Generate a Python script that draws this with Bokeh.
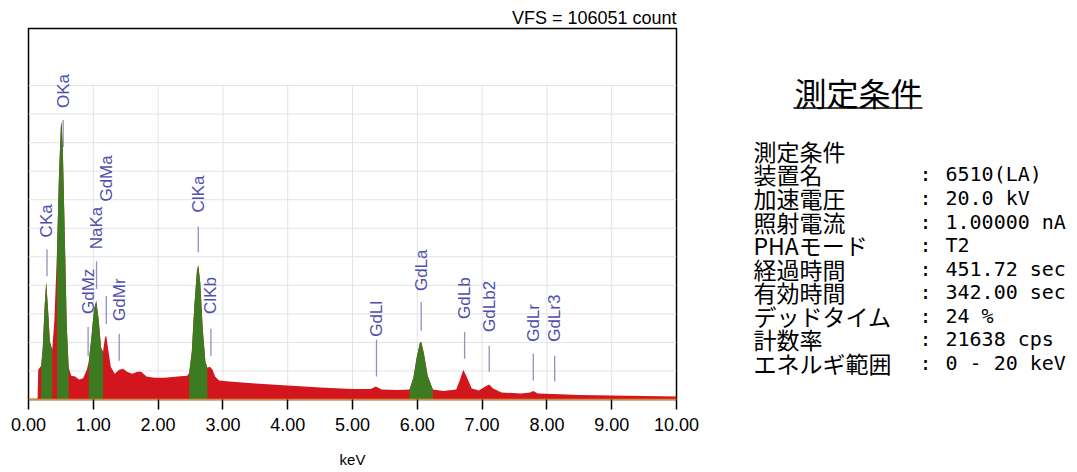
from bokeh.plotting import figure
from bokeh.models import Range1d, NumeralTickFormatter, FixedTicker, ColumnDataSource
from bokeh.layouts import row
from bokeh.embed import file_html
from bokeh.resources import INLINE
from bokeh.core.properties import value

# ---------------- data ----------------
vfs = 106051
energy_keV = [0.00, 0.14, 0.15, 0.196, 0.22, 0.25, 0.273, 0.30, 0.33, 0.366, 0.40, 0.44, 0.47, 0.50, 0.51,
              0.53, 0.56, 0.59, 0.62, 0.66, 0.72, 0.78, 0.84, 0.90, 0.93, 0.97, 1.01, 1.045, 1.08, 1.12,
              1.15, 1.18, 1.20, 1.23, 1.27, 1.33, 1.40, 1.46, 1.52, 1.60, 1.68, 1.74, 1.82, 1.95, 2.10,
              2.30, 2.45, 2.48, 2.52, 2.56, 2.60, 2.62, 2.65, 2.69, 2.73, 2.76, 2.80, 2.84, 2.88, 2.94,
              3.10, 3.50, 4.00, 4.50, 5.00, 5.28, 5.36, 5.45, 5.70, 5.88, 5.94, 5.99, 6.04, 6.06, 6.10,
              6.16, 6.24, 6.40, 6.60, 6.66, 6.71, 6.76, 6.84, 6.95, 7.05, 7.11, 7.17, 7.30, 7.60, 7.74,
              7.79, 7.86, 8.10, 8.50, 9.00, 9.50, 10.00]
counts = [0, 0, 8530, 9670, 14780, 27010, 33550, 26160, 16490, 14220, 22740, 42650, 63970, 78180, 79320,
          71080, 46910, 21320, 9100, 6820, 6540, 5690, 5970, 8530, 10800, 17630, 25590, 28150, 23310, 14780,
          13650, 17630, 18200, 14220, 9380, 7390, 8530, 8810, 7960, 7390, 7960, 7960, 6540, 6250, 6250,
          6540, 6820, 7680, 13650, 27010, 36960, 38380, 33550, 19900, 10800, 9100, 9380, 8530, 6540, 5400,
          5120, 4550, 3980, 3410, 2990, 2990, 3700, 2840, 2700, 2840, 6250, 11940, 16200, 16490, 13360,
          6820, 2840, 2420, 2840, 5690, 8530, 6540, 3130, 2560, 3700, 4260, 3130, 1990, 1710, 1990,
          2420, 1710, 1560, 1280, 1140, 1000, 850]

# identified-peak windows (green)
roi_lo = [0.196, 0.44, 0.93, 2.48, 5.88]
roi_hi = [0.366, 0.62, 1.15, 2.76, 6.24]

# peak identification labels
peak_names = ["CKa", "OKa", "NaKa", "GdMa", "GdMz", "GdMr", "ClKa", "ClKb",
              "GdLl", "GdLa", "GdLb", "GdLb2", "GdLr", "GdLr3"]
peak_keV = [0.285, 0.535, 1.05, 1.20, 0.92, 1.40, 2.62, 2.815,
            5.37, 6.06, 6.73, 7.11, 7.79, 8.12]
marker_top = [42930, 79890, 39520, 29570, 20750, 18760, 49470, 20190,
              17060, 27860, 19330, 15350, 13080, 12510]
marker_bottom = [35250, 72210, 31560, 21610, 12510, 11090, 42080, 12510,
                 6540, 19620, 11660, 7960, 5400, 5120]
label_base = [46340, 83300, 42930, 56580, 24450, 22460, 53450, 24450,
              17910, 30990, 23030, 19330, 16490, 16490]

x_ticks = [0, 1, 2, 3, 4, 5, 6, 7, 8, 9, 10]

cond_title = "測定条件"
cond_labels = ["測定条件", "装置名", "加速電圧", "照射電流", "PHAモード", "経過時間",
               "有効時間", "デッドタイム", "計数率", "エネルギ範囲"]
cond_values = ["", "6510(LA)", "20.0 kV", "1.00000 nA", "T2", "451.72 sec",
               "342.00 sec", "24 %", "21638 cps", " 0 - 20 keV"]

# ---------------- styles ----------------
RED = "#d3161e"
GREEN = "#3c7b22"
LABEL_BLUE = "#4f4fae"
MARK_BLUE = "#8f93bf"
GRID = "#e3e3e3"

FRAME_L, FRAME_T, FRAME_W, FRAME_H = 28, 28, 648, 373
P_W, H = 708, 470
Q_W = 368

p = figure(width=P_W, height=H, x_range=Range1d(0, 10), y_range=Range1d(0, vfs),
           output_backend="svg", toolbar_location=None, y_axis_type=None,
           min_border_left=FRAME_L, min_border_right=P_W - FRAME_L - FRAME_W,
           min_border_top=FRAME_T, min_border_bottom=H - FRAME_T - FRAME_H)
p.background_fill_color = "white"
p.border_fill_color = "white"
p.outline_line_color = "black"
p.outline_line_width = 1.5
p.xgrid.visible = False

p.title.text = "VFS = %d count" % vfs
p.title.align = "right"
p.title.text_font = "Liberation Sans"
p.title.text_font_size = "18px"
p.title.text_font_style = "normal"
p.title.text_color = "black"
p.title.standoff = 1
p.title.offset = 0

# grid (partial height as in the instrument print)
grid_step = vfs / 13.0
grid_top = grid_step * 11
p.segment(x0=x_ticks[1:-1], y0=[0] * 9, x1=x_ticks[1:-1], y1=[grid_top] * 9,
          line_color=GRID, line_width=1)
hy = [grid_step * k for k in range(1, 12)]
p.segment(x0=[0] * len(hy), y0=hy, x1=[10] * len(hy), y1=hy, line_color=GRID, line_width=1)

# marker ticks (behind spectrum)
p.segment(x0=peak_keV, y0=marker_bottom, x1=peak_keV, y1=marker_top,
          line_color=MARK_BLUE, line_width=1.3)

# spectrum
p.varea(x=energy_keV, y1=[0] * len(counts), y2=counts, fill_color=RED)
for lo, hi in zip(roi_lo, roi_hi):
    xs = [e for e in energy_keV if lo - 1e-9 <= e <= hi + 1e-9]
    ys = [c for e, c in zip(energy_keV, counts) if lo - 1e-9 <= e <= hi + 1e-9]
    p.varea(x=xs, y1=[0] * len(xs), y2=ys, fill_color=GREEN)

# labels
src = ColumnDataSource(dict(x=peak_keV, y=label_base, t=peak_names))
p.text(x="x", y="y", text="t", source=src, angle=1.5707963,
       text_align="left", text_baseline="middle",
       text_font=value("Liberation Sans"), text_font_size="17px", text_color=LABEL_BLUE)

# x axis
p.xaxis.ticker = FixedTicker(ticks=x_ticks)
p.xaxis.formatter = NumeralTickFormatter(format="0.00")
p.xaxis.minor_tick_line_color = None
p.xaxis.major_tick_in = 0
p.xaxis.major_tick_out = 10
p.xaxis.major_tick_line_color = "black"
p.xaxis.major_tick_line_width = 1.5
p.xaxis.axis_line_color = "#d58a3c"
p.xaxis.axis_line_width = 1.5
p.xaxis.major_label_text_font = "Liberation Sans"
p.xaxis.major_label_text_font_size = "18px"
p.xaxis.major_label_text_color = "black"
p.xaxis.major_label_standoff = 8
p.xaxis.axis_label = "keV"
p.xaxis.axis_label_text_font = "Liberation Sans"
p.xaxis.axis_label_text_font_style = "normal"
p.xaxis.axis_label_text_font_size = "15px"
p.xaxis.axis_label_text_color = "black"
p.xaxis.axis_label_standoff = 17

# ---------------- right panel ----------------
# frames of a row are aligned, so q's frame spans the same page rows as p's frame
q = figure(width=Q_W, height=H, x_range=Range1d(P_W, P_W + Q_W),
           y_range=Range1d(FRAME_T + FRAME_H, FRAME_T),
           output_backend="svg", toolbar_location=None, x_axis_type=None, y_axis_type=None,
           min_border=0)
q.outline_line_color = None
q.xgrid.visible = False
q.ygrid.visible = False

q.text(x=[858], y=[92], text=[cond_title], text_font=value("Noto Sans CJK JP"),
       text_font_size="32px", text_align="center", text_baseline="middle", text_color="black")
q.segment(x0=[793], y0=[108], x1=[922], y1=[108], line_color="black", line_width=1.5)

row_y = [151 + 23.7 * i for i in range(len(cond_labels))]
q.text(x=[753] * len(cond_labels), y=row_y, text=cond_labels, text_font=value("Noto Sans CJK JP"),
       text_font_size="23px", text_align="left", text_baseline="middle", text_color="black")
vy = [y for y, v in zip(row_y, cond_values) if v != ""]
vv = [v for v in cond_values if v != ""]
q.text(x=[925] * len(vy), y=vy, text=[":"] * len(vy), text_font=value("DejaVu Sans Mono"),
       text_font_size="20px", text_align="center", text_baseline="middle", text_color="black")
q.text(x=[945] * len(vy), y=vy, text=vv, text_font=value("DejaVu Sans Mono"),
       text_font_size="20px", text_align="left", text_baseline="middle", text_color="black")

layout = row(p, q)
open("out.html", "w").write(file_html(layout, INLINE))
